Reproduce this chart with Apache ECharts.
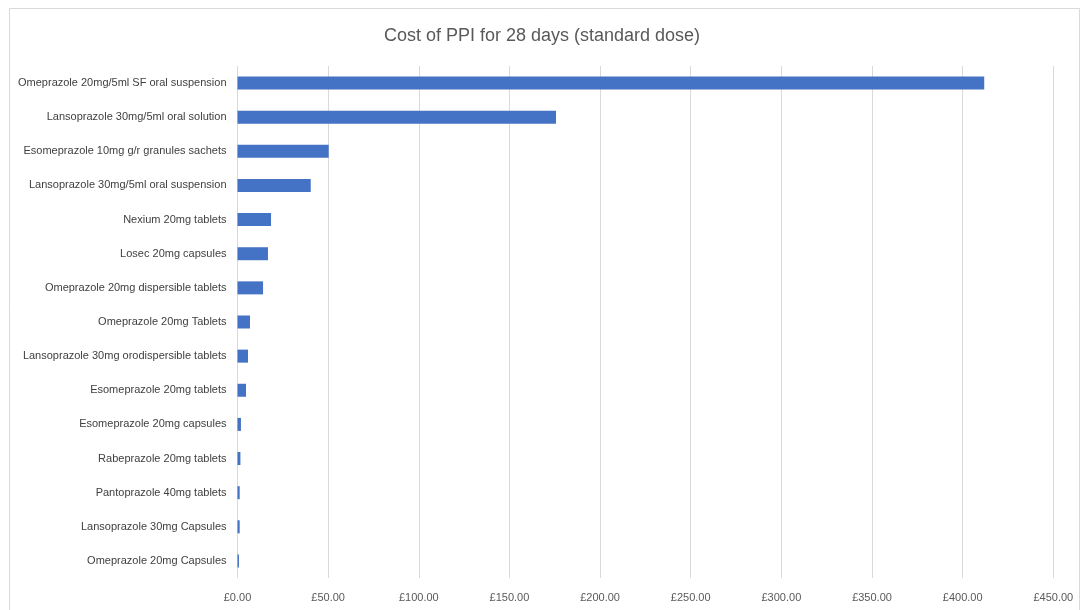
<!DOCTYPE html>
<html><head><meta charset="utf-8">
<script src="https://cdn.jsdelivr.net/npm/echarts@6/dist/echarts.min.js"></script>
<style>html,body{margin:0;padding:0;background:#fff}#c{width:1084px;height:610px}</style>
</head><body><div id="c"></div>
<script>
const categories = [
  "Omeprazole 20mg/5ml SF oral suspension",
  "Lansoprazole 30mg/5ml oral solution",
  "Esomeprazole 10mg g/r granules sachets",
  "Lansoprazole 30mg/5ml oral suspension",
  "Nexium 20mg tablets",
  "Losec 20mg capsules",
  "Omeprazole 20mg dispersible tablets",
  "Omeprazole 20mg Tablets",
  "Lansoprazole 30mg orodispersible tablets",
  "Esomeprazole 20mg tablets",
  "Esomeprazole 20mg capsules",
  "Rabeprazole 20mg tablets",
  "Pantoprazole 40mg tablets",
  "Lansoprazole 30mg Capsules",
  "Omeprazole 20mg Capsules"
];
const costs = [411.9, 175.7, 50.3, 40.4, 18.5, 16.8, 14.1, 6.9, 5.8, 4.7, 1.9, 1.6, 1.2, 1.2, 0.8];
const titleText = "Cost of PPI for 28 days (standard dose)";

const chart = echarts.init(document.getElementById('c'));
const font = "'Liberation Sans', Arial, sans-serif";
chart.setOption({
  animation: false,
  graphic: [{type:'rect', shape:{x:9.5,y:8.5,width:1070,height:610}, style:{fill:'none', stroke:'#d9d9d9', lineWidth:1}, silent:true}],
  title: {text: titleText, left: 'center', top: 22, textStyle:{fontFamily:font, fontSize:18, fontWeight:'normal', color:'#595959'}},
  grid: {left: 237.5, right: 30.7, top: 66, bottom: 32, containLabel:false},
  xAxis: {type:'value', min:0, max:450, interval:50,
    axisLabel:{formatter: v => '£' + v.toFixed(2), color:'#595959', fontFamily:font, fontSize:11, margin:14},
    splitLine:{lineStyle:{color:'#d9d9d9', width:1}},
    axisLine:{show:false}, axisTick:{show:false}},
  yAxis: {type:'category', data: categories, inverse:true,
    axisLabel:{color:'#404040', fontFamily:font, fontSize:11, margin:11},
    axisLine:{show:false}, axisTick:{show:false}},
  series: [{type:'bar', data: costs, barWidth: 13, itemStyle:{color:'#4472c4'}}]
});
</script></body></html>
